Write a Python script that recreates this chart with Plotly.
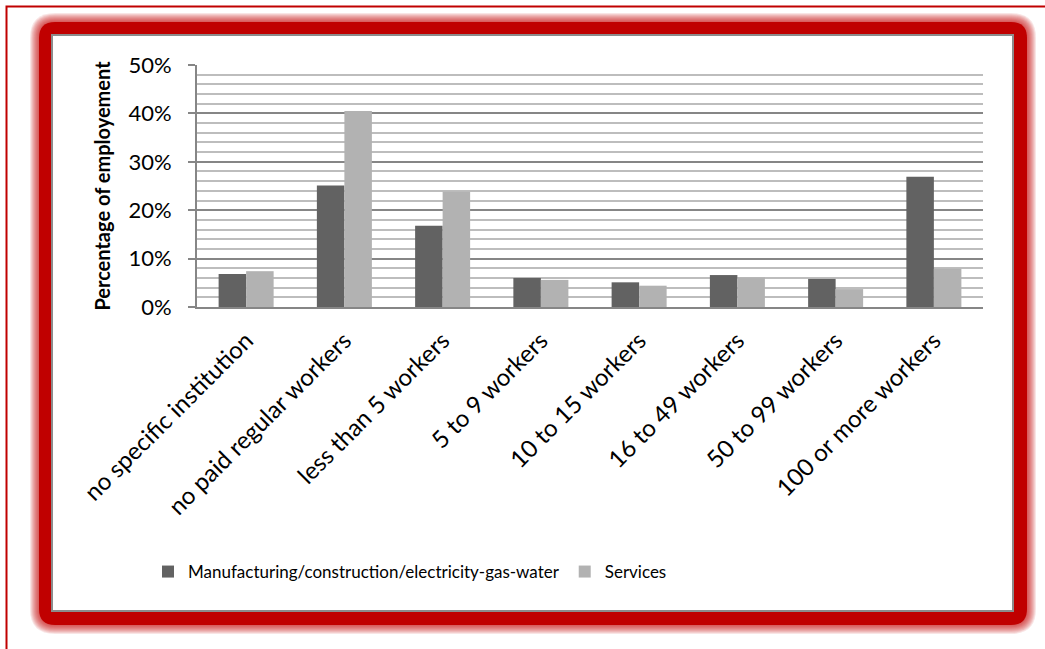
import plotly.graph_objects as go

categories = ["no specific institution", "no paid regular workers", "less than 5 workers",
              "5 to 9 workers", "10 to 15 workers", "16 to 49 workers",
              "50 to 99 workers", "100 or more workers"]
manufacturing = [0.068, 0.251, 0.168, 0.060, 0.051, 0.066, 0.058, 0.269]
services = [0.074, 0.405, 0.238, 0.056, 0.044, 0.061, 0.037, 0.079]
series_names = ["Manufacturing/construction/electricity-gas-water", "Services"]
y_title = "Percentage of employement"

W, H = 1045, 649
PL, PR, PT, PB = 197, 983, 65, 307  # plot area in pixels

def fx(X):
    return (X - PL) / (PR - PL)

def fy(Y):
    return (PB - Y) / (PB - PT)

def rrect(x0, y0, x1, y1, r):
    p = [f"M {fx(x0 + r)} {fy(y0)}",
         f"L {fx(x1 - r)} {fy(y0)}",
         f"Q {fx(x1)} {fy(y0)} {fx(x1)} {fy(y0 + r)}",
         f"L {fx(x1)} {fy(y1 - r)}",
         f"Q {fx(x1)} {fy(y1)} {fx(x1 - r)} {fy(y1)}",
         f"L {fx(x0 + r)} {fy(y1)}",
         f"Q {fx(x0)} {fy(y1)} {fx(x0)} {fy(y1 - r)}",
         f"L {fx(x0)} {fy(y0 + r)}",
         f"Q {fx(x0)} {fy(y0)} {fx(x0 + r)} {fy(y0)}",
         "Z"]
    return " ".join(p)

RED = "#c00000"
shapes = []
# outer thin frame
shapes.append(dict(type="rect", xref="paper", yref="paper", layer="below",
                   x0=fx(6.5), y0=fy(6.5), x1=fx(1060), y1=fy(670),
                   line=dict(color=RED, width=2), fillcolor="rgba(0,0,0,0)"))
# glow
for k in range(9, 0, -1):
    shapes.append(dict(type="path", xref="paper", yref="paper", layer="below",
                       path=rrect(39 - k, 22 - k, 1027 + k, 625 + k, 16 + k),
                       fillcolor="rgba(192,0,0,0.10)", line=dict(width=0)))
# thick red band
shapes.append(dict(type="path", xref="paper", yref="paper", layer="below",
                   path=rrect(39, 22, 1027, 625, 16),
                   fillcolor=RED, line=dict(width=0)))
# white panel
shapes.append(dict(type="rect", xref="paper", yref="paper", layer="below",
                   x0=fx(52), y0=fy(35), x1=fx(1013), y1=fy(611),
                   fillcolor="white", line=dict(color="#8c8c8c", width=2)))

fig = go.Figure()
fig.add_trace(go.Bar(x=categories, y=manufacturing, name=series_names[0],
                     marker=dict(color="#626262", line=dict(width=0))))
fig.add_trace(go.Bar(x=categories, y=services, name=series_names[1],
                     marker=dict(color="#b2b2b2", line=dict(width=0))))

FONT = "Lato"
fig.update_layout(
    width=W, height=H,
    margin=dict(l=PL, r=W - PR, t=PT, b=H - PB, autoexpand=False),
    paper_bgcolor="white", plot_bgcolor="rgba(0,0,0,0)",
    barmode="group", bargap=0.44, bargroupgap=0,
    font=dict(family=FONT, color="black", size=21),
    shapes=shapes,
    showlegend=True,
    legend=dict(orientation="h", x=fx(148), xanchor="left", y=fy(572), yanchor="middle",
                font=dict(family=FONT, size=17), bgcolor="rgba(0,0,0,0)",
                itemwidth=30, tracegroupgap=0),
)
fig.update_xaxes(showline=True, linecolor="#868686", linewidth=2, ticks="",
                 tickangle=-45, tickfont=dict(family=FONT, size=24), showgrid=False,
                 ticklabelstandoff=8, automargin=False)
fig.update_yaxes(range=[0, 0.5], dtick=0.1, tickformat=".0%",
                 showline=True, linecolor="#868686", linewidth=2,
                 ticks="outside", ticklen=7, tickcolor="#868686", tickwidth=2,
                 ticklabelstandoff=12,
                 showgrid=True, gridcolor="#868686", gridwidth=1.5,
                 minor=dict(dtick=0.02, showgrid=True, gridcolor="#bdbdbd", gridwidth=1.5),
                 zeroline=False,
                 tickfont=dict(family=FONT, size=22),
                 title=dict(text=y_title, font=dict(family=FONT, size=20, weight="bold"), standoff=12),
                 automargin=False)

fig.write_html("out.html")
